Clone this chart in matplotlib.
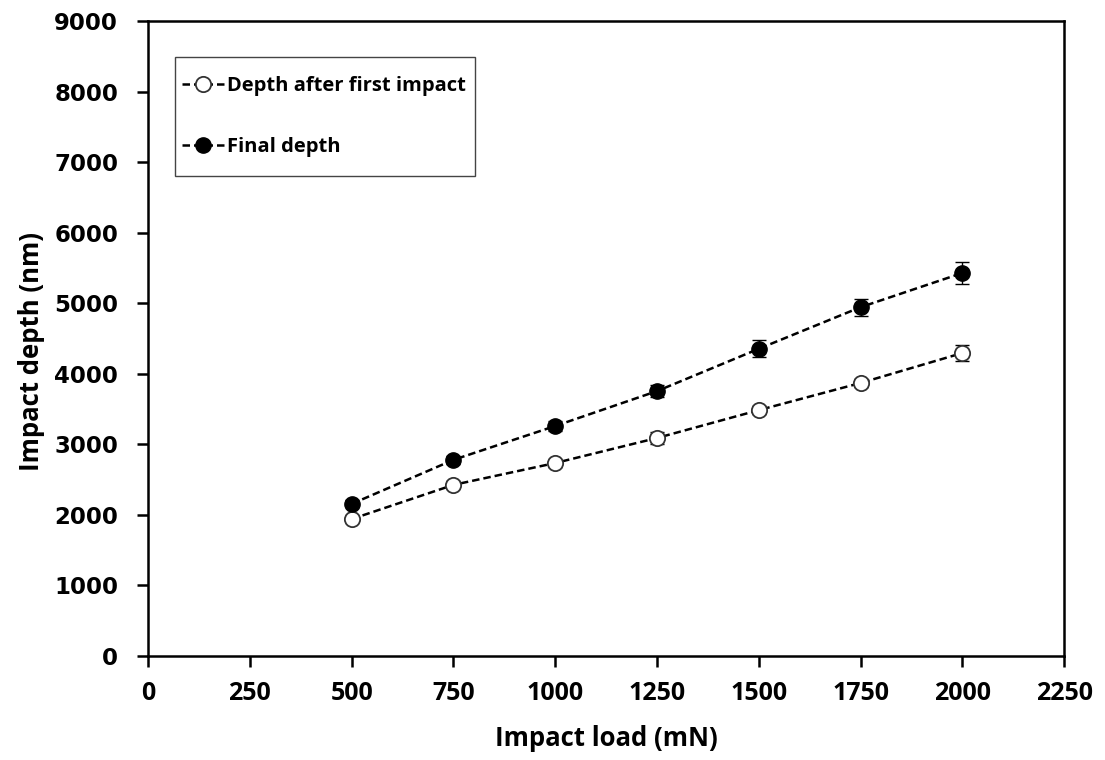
import matplotlib
matplotlib.use('Agg')
import matplotlib.pyplot as plt
from matplotlib.patches import Rectangle

# Impact load (mN)
loads = [500, 750, 1000, 1250, 1500, 1750, 2000]

# Depth after first impact (nm) and error
first_depth = [1940, 2425, 2735, 3090, 3485, 3870, 4295]
first_err = [40, 50, 50, 90, 60, 60, 110]

# Final depth (nm) and error
final_depth = [2155, 2780, 3260, 3755, 4355, 4945, 5430]
final_err = [50, 60, 70, 90, 120, 120, 150]

x_ticks = [0, 250, 500, 750, 1000, 1250, 1500, 1750, 2000, 2250]
y_ticks = [0, 1000, 2000, 3000, 4000, 5000, 6000, 7000, 8000, 9000]

fig = plt.figure(figsize=(11.05, 7.6), dpi=100)
ax = fig.add_axes([0.134, 0.137, 0.829, 0.835])

# error bars (kept out of the legend)
ax.errorbar(loads, first_depth, yerr=first_err, fmt='none', ecolor='black',
            elinewidth=1, capsize=5, capthick=1)
ax.errorbar(loads, final_depth, yerr=final_err, fmt='none', ecolor='black',
            elinewidth=1, capsize=5, capthick=1)

ax.plot(loads, first_depth, 'o--', color='black', mfc='white', mec='#333333',
        mew=1.3, ms=11, lw=1.8, dashes=(3, 1.6), label='Depth after first impact')
ax.plot(loads, final_depth, 'o--', color='black', mfc='black', mec='black',
        ms=11, lw=1.8, dashes=(3, 1.6), label='Final depth')

ax.set_xlim(0, 2250)
ax.set_ylim(0, 9000)
ax.set_xticks(x_ticks)
ax.set_yticks(y_ticks)
for s in ax.spines.values():
    s.set_linewidth(1.8)
ax.tick_params(direction='out', length=8, width=1.8)
ax.tick_params(axis='x', pad=10)
ax.tick_params(axis='y', pad=13.5)
ax.set_xticklabels([str(v) for v in x_ticks], fontfamily='Open Sans',
                   fontweight='bold', fontsize=18)
ax.set_yticklabels([str(v) for v in y_ticks], fontfamily='DejaVu Sans',
                   fontweight='bold', fontsize=16.5)

ax.set_xlabel('Impact load (mN)', fontfamily='Open Sans', fontweight='bold',
              fontsize=18.5, labelpad=14)
ax.set_ylabel('Impact depth (nm)', fontfamily='Open Sans', fontweight='bold',
              fontsize=18.5)
ax.yaxis.set_label_coords(-0.113, 0.48)

# legend box drawn separately so the padding can differ per side
ax.add_patch(Rectangle((0.0295, 0.756), 0.327, 0.187, transform=ax.transAxes,
                       fill=False, edgecolor='#444444', lw=1, zorder=4))
ax.legend(loc='upper left', bbox_to_anchor=(0.037, 0.913), handlelength=2.1,
          handletextpad=0.15, labelspacing=2.0, borderpad=0, borderaxespad=0,
          frameon=False,
          prop={'family': 'Open Sans', 'weight': 'bold', 'size': 14.5})

fig.savefig('out.png', dpi=100)
